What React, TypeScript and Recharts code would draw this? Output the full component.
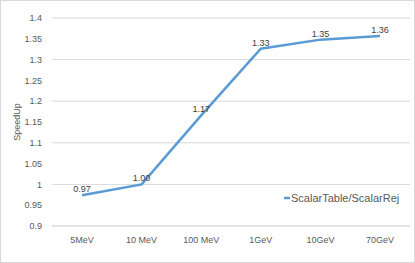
import { LineChart, Line, XAxis, YAxis, CartesianGrid, LabelList } from 'recharts'

const energies = ['5MeV', '10 MeV', '100 MeV', '1GeV', '10GeV', '70GeV']
const speedUp = [0.974, 1.0, 1.166, 1.326, 1.348, 1.357]
const yTicks = [0.9, 0.95, 1, 1.05, 1.1, 1.15, 1.2, 1.25, 1.3, 1.35, 1.4]
const seriesName = 'ScalarTable/ScalarRej'

const data = energies.map((e, i) => ({ energy: e, value: speedUp[i] }))

const FONT = '"Liberation Sans", Arial, sans-serif'
const BLUE = '#5b9bd5'

// legend drawn outside the chart so it doesn't shrink the plot area
function LegendBox() {
  return (
    <div style={{ position: 'absolute', left: 283, top: 191, display: 'flex', alignItems: 'center', fontFamily: FONT, fontSize: 11, color: '#595959', whiteSpace: 'nowrap' }}>
      <svg width={6} height={4} style={{ marginRight: 1 }}>
        <line x1={0} y1={2} x2={6} y2={2} stroke={BLUE} strokeWidth={2.5} />
      </svg>
      <span>{seriesName}</span>
    </div>
  )
}

export default function App() {
  return (
    <div style={{ position: 'absolute', left: 0, top: 0, width: 413, height: 261, border: '1px solid #d9d9d9', background: '#fff' }}>
      <LineChart width={413} height={261} data={data} margin={{ top: 17, right: 4, bottom: 6, left: 0 }}>
        <CartesianGrid vertical={false} stroke="#d9d9d9" strokeWidth={1} />
        <XAxis
          dataKey="energy"
          height={30}
          axisLine={{ stroke: '#d9d9d9' }}
          tickLine={false}
          tickMargin={5}
          padding={{ left: 30, right: 30 }}
          tick={{ fontSize: 9, fill: '#595959', fontFamily: FONT }}
          interval={0}
        />
        <YAxis
          domain={[0.9, 1.4]}
          ticks={yTicks}
          width={51}
          axisLine={false}
          tickLine={false}
          tickMargin={4}
          tick={{ fontSize: 9, fill: '#595959', fontFamily: FONT }}
          label={{
            content: () => (
              <text x={16} y={121} transform="rotate(-90 16 121)" textAnchor="middle" dominantBaseline="central" fontSize={9} fill="#595959" fontFamily={FONT}>
                SpeedUp
              </text>
            ),
          }}
        />
        <Line
          type="linear"
          dataKey="value"
          name={seriesName}
          stroke={BLUE}
          strokeWidth={2.5}
          dot={false}
          isAnimationActive={false}
        >
          <LabelList
            dataKey="value"
            position="top"
            offset={3}
            formatter={(v: number) => v.toFixed(2)}
            style={{ fontSize: 9, fill: '#404040', fontFamily: FONT }}
          />
        </Line>
      </LineChart>
      <LegendBox />
    </div>
  )
}
